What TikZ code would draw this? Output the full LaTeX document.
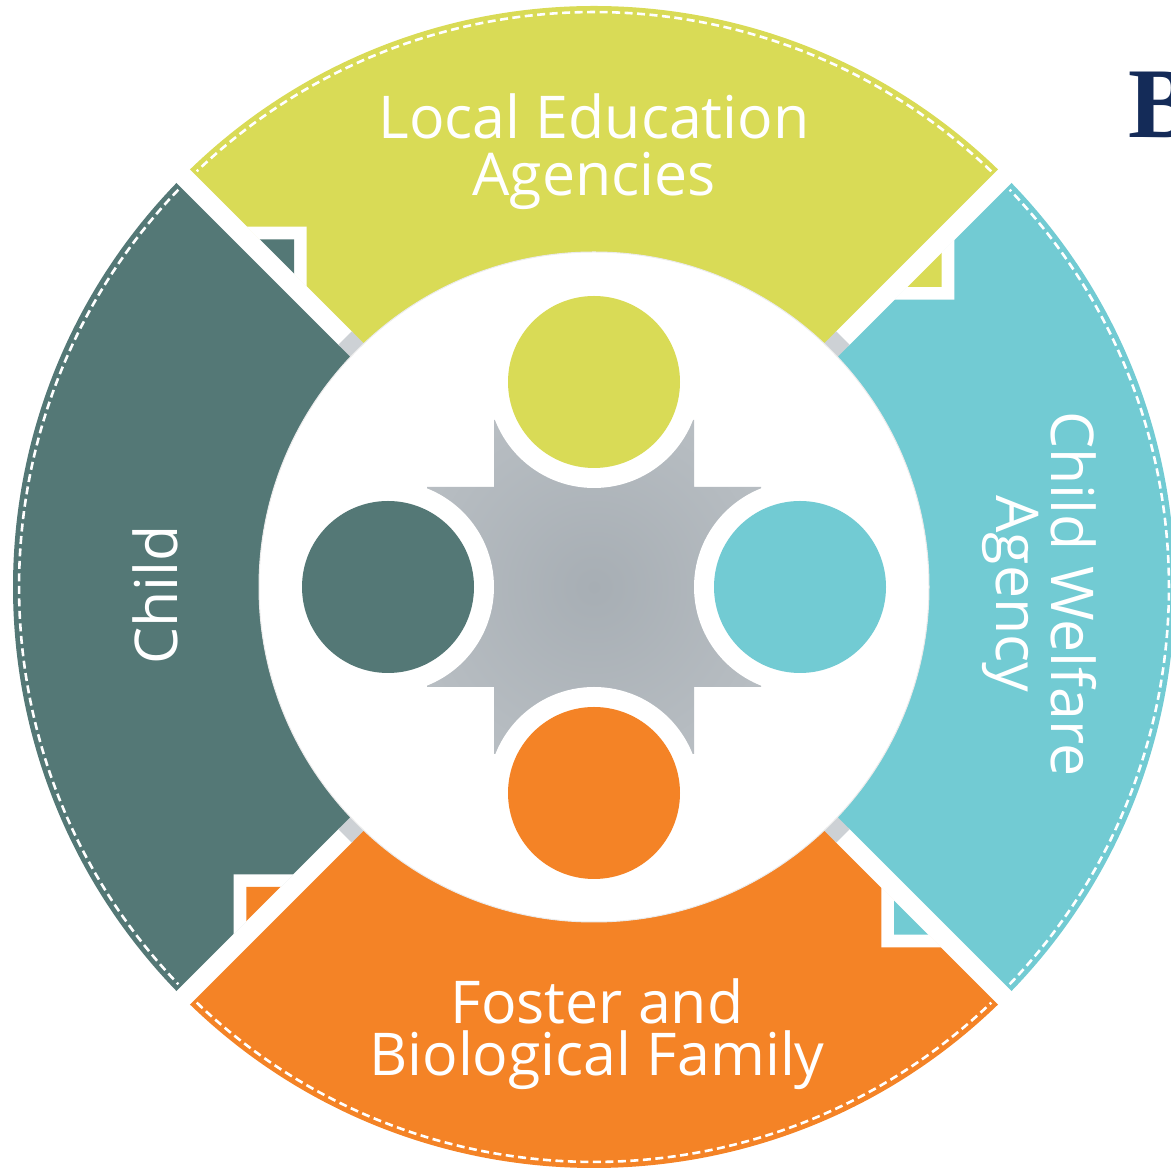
\documentclass[tikz,border=0pt]{standalone}
\usepackage{fontspec}
\setmainfont{Open Sans}
\newfontfamily\serifB{Liberation Serif}
\usetikzlibrary{calc}
\definecolor{segY}{HTML}{D9DB56}
\definecolor{segT}{HTML}{547876}
\definecolor{segC}{HTML}{72CBD3}
\definecolor{segO}{HTML}{F48326}
\definecolor{navy}{HTML}{142B58}
\definecolor{shadowgray}{HTML}{CDD1D5}
\definecolor{crossIn}{HTML}{A7AEB4}
\definecolor{crossOut}{HTML}{C4C9CD}
\pgfdeclareradialshading{crossshade}{\pgfpoint{0bp}{0bp}}{color(0bp)=(crossIn); color(50bp)=(crossOut)}
\begin{document}
\begin{tikzpicture}[x=1pt,y=1pt,
  dashring/.style={draw=white,line width=2.6pt,dash pattern=on 8pt off 4.5pt},
  gapstrip/.style={draw=white,line width=19pt},
  gapshade/.style={draw=shadowgray,line width=19pt},
  lbl/.style={text=white,inner sep=0pt,anchor=center,align=center},
  ]
\path[use as bounding box, clip] (0,0) rectangle (1171,1170);
\coordinate (C) at (594,583);
% quadrant segments
\fill[segY] (C) -- ([shift={(45:581)}]C) arc[start angle=45,end angle=135,radius=581] -- cycle;
\fill[segT] (C) -- ([shift={(135:581)}]C) arc[start angle=135,end angle=225,radius=581] -- cycle;
\fill[segO] (C) -- ([shift={(225:581)}]C) arc[start angle=225,end angle=315,radius=581] -- cycle;
\fill[segC] (C) -- ([shift={(-45:581)}]C) arc[start angle=-45,end angle=45,radius=581] -- cycle;
% folded corner notches
\foreach \ang/\col in {0/segT,-90/segY,180/segC,90/segO}{
  \begin{scope}[rotate around={\ang:(C)}]
    \fill[white] (246.7,943.3) -- (306.7,943.3) -- (306.7,883.3) -- cycle;
    \fill[\col] (258.3,930.7) -- (294,930.7) -- (294,894) -- cycle;
  \end{scope}
}
% dashed stitching along the rim
\foreach \a in {45,135,225,315}{
  \draw[dashring] ([shift={(\a+1.3:575)}]C) arc[start angle=\a+1.3,end angle=\a+88.7,radius=575];
}
% white gaps between segments
\foreach \a in {45,135,225,315}{
  \draw[gapstrip] ([shift={(\a:350)}]C) -- ([shift={(\a:640)}]C);
  \draw[gapshade] ([shift={(\a:330)}]C) -- ([shift={(\a:352)}]C);
}
% inner white disk
\fill[white] (C) circle (335);
\draw[black!8,line width=1pt] (C) circle (335);
% grey cross
\shade[shading=crossshade] (494,750) -- (694,750) -- (694,683) -- (761,683) -- (761,483) -- (694,483) -- (694,416) -- (494,416) -- (494,483) -- (427,483) -- (427,683) -- (494,683) -- cycle;
% four circles with white rings
\foreach \dx/\dy/\col in {0/205/segY,0/-206/segO,-206/0/segT,206/0/segC}{
  \fill[white] ([shift={(\dx,\dy)}]C) circle (106);
  \fill[\col] ([shift={(\dx,\dy)}]C) circle (86);
}
% labels
\node[lbl,font=\fontsize{59}{57}\selectfont] (lea) at (594,1018.8) {Local Education\\Agencies};
\node[lbl,font=\fontsize{59}{52}\selectfont] (fam) at (597,136.3) {Foster and\\Biological Family};
\node[lbl,font=\fontsize{59}{57}\selectfont,rotate=90,anchor=base] (child) at (177,575) {Child};
\node[lbl,font=\fontsize{59}{55}\selectfont,rotate=-90] (cwa) at (1039.8,576) {Child Welfare\\Agency};
\node[font=\serifB\bfseries\fontsize{100}{100}\selectfont,text=navy,inner sep=0pt,anchor=base west] (bee) at (1128.5,1032) {B};
\end{tikzpicture}
\end{document}
